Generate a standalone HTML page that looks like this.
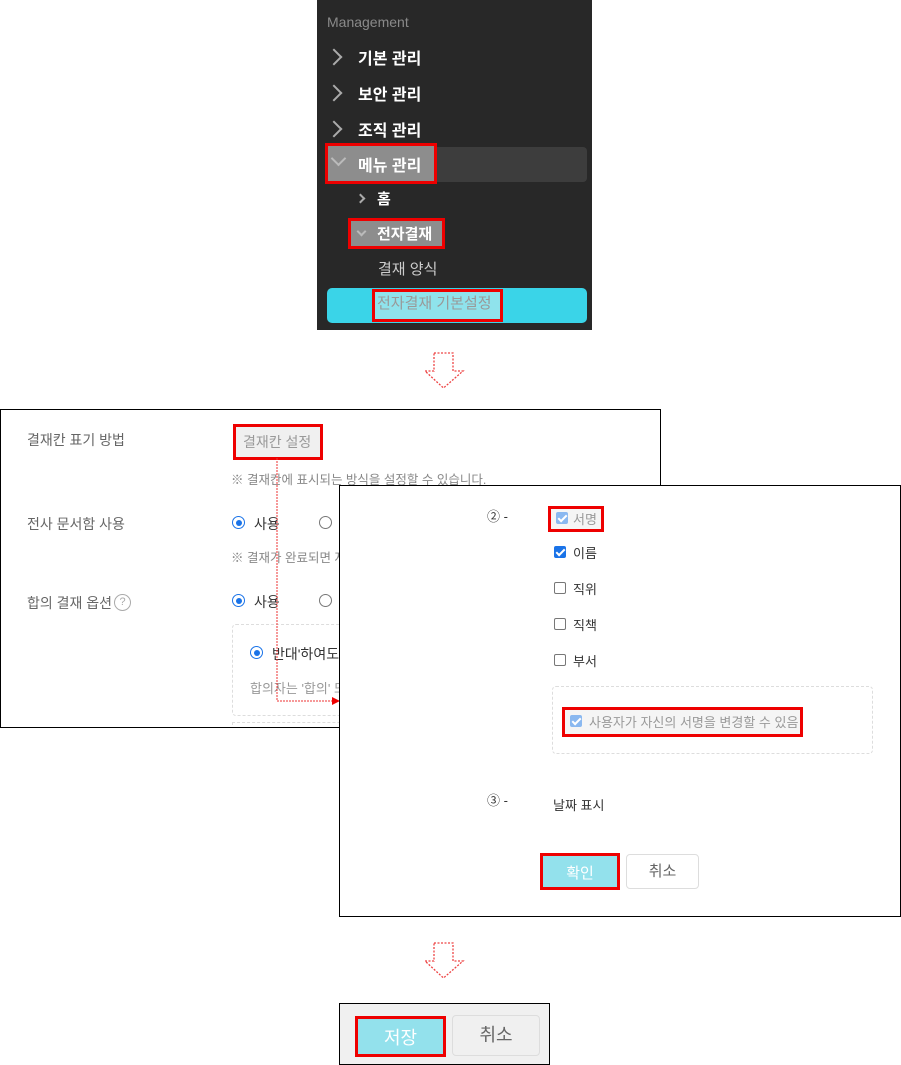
<!DOCTYPE html>
<html><head><meta charset="utf-8"><style>
*{margin:0;padding:0;box-sizing:border-box}
body{width:901px;height:1065px;background:#fff;position:relative;overflow:hidden;font-family:"Liberation Sans","Noto Sans CJK KR",sans-serif}
.a{position:absolute;white-space:nowrap}
.w{color:#fff;font-weight:bold;font-size:16px}
.chev{position:absolute;width:12px;height:12px;border-right:2px solid #aaa;border-top:2px solid #aaa;transform:rotate(45deg)}
.red{position:absolute;border:3px solid #e00}
.g{color:#666;font-size:14px}
.radio{position:absolute;width:13px;height:13px;border-radius:50%;border:1px solid #777;background:#fff}
.radio.on{border:1.5px solid #1a73e8}
.radio.on::after{content:"";position:absolute;left:2.5px;top:2.5px;width:6px;height:6px;border-radius:50%;background:#1a73e8}
.cb{position:absolute;width:12px;height:12px;border:1px solid #777;border-radius:2px;background:#fff}
.cb.on{background:#1a73e8;border-color:#1a73e8}
.cb.lt{background:#8ab8f0;border-color:#8ab8f0}
.cb.on::after,.cb.lt::after{content:"";position:absolute;left:3px;top:0px;width:3px;height:7px;border-right:2px solid #fff;border-bottom:2px solid #fff;transform:rotate(45deg)}
</style></head><body>

<!-- Sidebar -->
<div class="a" style="left:317px;top:0;width:275px;height:330px;background:#282828"></div>
<div class="a" style="left:327px;top:14px;color:#8a8a8a;font-size:14px">Management</div>
<div class="chev" style="left:328px;top:51px"></div><div class="a w" style="left:358px;top:45px">기본 관리</div>
<div class="chev" style="left:328px;top:87px"></div><div class="a w" style="left:358px;top:81px">보안 관리</div>
<div class="chev" style="left:328px;top:123px"></div><div class="a w" style="left:358px;top:117px">조직 관리</div>
<div class="a" style="left:327px;top:147px;width:260px;height:35px;background:#3d3d3d;border-radius:4px"></div>
<div class="red" style="left:325px;top:143px;width:112px;height:41px;background:#8d8d8d"></div>
<div class="a" style="left:333px;top:153px;width:11px;height:11px;border-right:2px solid #bbb;border-bottom:2px solid #bbb;transform:rotate(45deg)"></div>
<div class="a w" style="left:358px;top:152px">메뉴 관리</div>
<div class="a" style="left:357px;top:195px;width:7px;height:7px;border-right:2px solid #aaa;border-top:2px solid #aaa;transform:rotate(45deg)"></div>
<div class="a w" style="left:377px;top:188px;font-size:15px">홈</div>
<div class="red" style="left:348px;top:218px;width:97px;height:31px;background:#8d8d8d"></div>
<div class="a" style="left:358px;top:228px;width:7px;height:7px;border-right:2px solid #bbb;border-bottom:2px solid #bbb;transform:rotate(45deg)"></div>
<div class="a w" style="left:377px;top:223px;font-size:15px">전자결재</div>
<div class="a" style="left:378px;top:258px;color:#ccc;font-size:15px">결재 양식</div>
<div class="a" style="left:327px;top:288px;width:260px;height:35px;background:#3ad4e8;border-radius:5px"></div>
<div class="red" style="left:372px;top:289px;width:131px;height:33px;background:#8fe3ec"></div>
<div class="a" style="left:377px;top:292px;color:#999;font-size:15px">전자결재 기본설정</div>

<!-- arrow 1 -->
<svg class="a" style="left:420px;top:350px" width="48" height="42"><polygon points="14,3 33,3 33,21 43,21 23.5,38 5,21 14,21" fill="none" stroke="#e44" stroke-width="1.3" stroke-dasharray="2,1.5"/></svg>

<!-- panel 2 -->
<div class="a" style="left:0;top:409px;width:661px;height:319px;border:1px solid #000;background:#fff;overflow:hidden">
 <div class="a g" style="left:26px;top:20px">결재칸 표기 방법</div>
 <div class="red" style="left:232px;top:14px;width:90px;height:36px;background:#f0f0f0"></div>
 <div class="a" style="left:242px;top:22px;color:#999;font-size:14px">결재칸 설정</div>
 <div class="a" style="left:230px;top:59px;color:#888;font-size:12.5px">※ 결재칸에 표시되는 방식을 설정할 수 있습니다.</div>
 <div class="a g" style="left:26px;top:104px">전사 문서함 사용</div>
 <div class="radio on" style="left:231px;top:106px"></div><div class="a" style="left:253px;top:104px;font-size:14px;color:#333">사용</div>
 <div class="radio" style="left:318px;top:106px"></div>
 <div class="a" style="left:230px;top:137px;color:#888;font-size:12.5px">※ 결재가 완료되면 저</div>
 <div class="a g" style="left:26px;top:183px">합의 결재 옵션</div>
 <div class="a" style="left:113px;top:184px;width:17px;height:17px;border:1px solid #aaa;border-radius:50%;color:#aaa;font-size:11px;text-align:center;line-height:15px">?</div>
 <div class="radio on" style="left:231px;top:184px"></div><div class="a" style="left:253px;top:182px;font-size:14px;color:#333">사용</div>
 <div class="radio" style="left:318px;top:184px"></div>
 <div class="a" style="left:231px;top:214px;width:500px;height:92px;border:1px dashed #ddd;border-radius:4px"></div>
 <div class="radio on" style="left:249px;top:236px"></div><div class="a" style="left:271px;top:234px;font-size:14px;color:#333">반대'하여도</div>
 <div class="a" style="left:249px;top:268px;color:#999;font-size:13px">합의자는 '합의' 또</div>
 <div class="a" style="left:231px;top:312px;width:500px;height:20px;border:1px dashed #ddd"></div>
</div>
<!-- connector -->
<svg class="a" style="left:270px;top:455px" width="75" height="255"><path d="M7,3 V246 H64" fill="none" stroke="#e33" stroke-width="1" stroke-dasharray="2,1"/><polygon points="62,242 70,246 62,250" fill="#e00"/></svg>

<!-- panel 3 -->
<div class="a" style="left:339px;top:485px;width:562px;height:432px;border:1px solid #000;background:#fff">
 <div class="a" style="left:147px;top:20px;font-size:13px;color:#333">② -</div>
 <div class="red" style="left:208px;top:20px;width:56px;height:26px;background:#f5f5f5"></div>
 <div class="cb lt" style="left:216px;top:26px"></div><div class="a" style="left:233px;top:23px;font-size:13px;color:#999">서명</div>
 <div class="cb on" style="left:214px;top:60px"></div><div class="a" style="left:233px;top:57px;font-size:13px;color:#333">이름</div>
 <div class="cb" style="left:214px;top:96px"></div><div class="a" style="left:233px;top:93px;font-size:13px;color:#333">직위</div>
 <div class="cb" style="left:214px;top:132px"></div><div class="a" style="left:233px;top:129px;font-size:13px;color:#333">직책</div>
 <div class="cb" style="left:214px;top:168px"></div><div class="a" style="left:233px;top:165px;font-size:13px;color:#333">부서</div>
 <div class="a" style="left:212px;top:200px;width:321px;height:68px;border:1px dashed #ddd;border-radius:4px"></div>
 <div class="red" style="left:222px;top:221px;width:241px;height:30px;background:#f5f5f5"></div>
 <div class="cb lt" style="left:230px;top:229px"></div><div class="a" style="left:249px;top:226px;font-size:13px;color:#999">사용자가 자신의 서명을 변경할 수 있음</div>
 <div class="a" style="left:147px;top:304px;font-size:13px;color:#333">③ -</div>
 <div class="a" style="left:213px;top:309px;font-size:13px;color:#333">날짜 표시</div>
 <div class="red" style="left:200px;top:367px;width:80px;height:37px;background:#93e1ec"></div>
 <div class="a" style="left:200px;top:376px;width:80px;text-align:center;color:#fff;font-size:15px">확인</div>
 <div class="a" style="left:286px;top:368px;width:73px;height:35px;border:1px solid #ddd;border-radius:4px;text-align:center;line-height:33px;color:#666;font-size:15px">취소</div>
</div>

<!-- arrow 2 -->
<svg class="a" style="left:420px;top:940px" width="48" height="42"><polygon points="14,3 33,3 33,21 43,21 23.5,38 5,21 14,21" fill="none" stroke="#e44" stroke-width="1.3" stroke-dasharray="2,1.5"/></svg>

<!-- panel 4 -->
<div class="a" style="left:339px;top:1003px;width:211px;height:62px;border:1px solid #000;background:#f0f0f0">
 <div class="red" style="left:15px;top:12px;width:91px;height:41px;background:#93e1ec"></div>
 <div class="a" style="left:15px;top:20px;width:91px;text-align:center;color:#fff;font-size:18px">저장</div>
 <div class="a" style="left:112px;top:11px;width:88px;height:41px;border:1px solid #ddd;border-radius:4px;text-align:center;line-height:39px;color:#666;font-size:18px">취소</div>
</div>
</body></html>
